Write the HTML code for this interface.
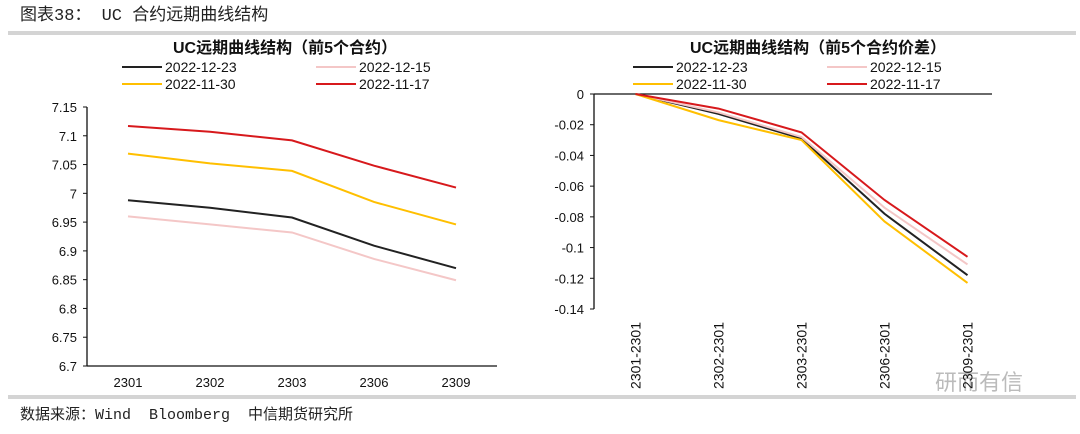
<!DOCTYPE html>
<html><head><meta charset="utf-8"><style>
body{margin:0;background:#fff;}
svg text{font-family:"Liberation Sans","Noto Sans CJK SC",sans-serif;}
</style></head><body>
<svg width="1080" height="429" viewBox="0 0 1080 429" xmlns="http://www.w3.org/2000/svg">
<text x="20" y="20" font-size="17" fill="#222" style="font-family:'Liberation Mono','Noto Sans CJK SC',monospace;white-space:pre">图表38： UC 合约远期曲线结构</text>
<rect x="8" y="31" width="1068" height="4" fill="#d4d4d4"/>
<rect x="8" y="395" width="1068" height="4" fill="#d4d4d4"/>
<text x="20" y="419" font-size="15" fill="#222" style="font-family:'Liberation Mono','Noto Sans CJK SC',monospace;white-space:pre">数据来源：Wind  Bloomberg  中信期货研究所</text>
<text x="935" y="390" font-size="22" fill="#bbb">研而有信</text>
<g id="left"></g>
<g id="right"></g>
</svg>
<script>
const seriesNames=["2022-12-23","2022-12-15","2022-11-30","2022-11-17"];
const seriesColors=["#222222","#f4c7c7","#ffbf00","#d7191c"];
const leftCats=["2301","2302","2303","2306","2309"];
const leftBlack=[6.988,6.975,6.958,6.909,6.870];
const leftPink=[6.960,6.946,6.932,6.886,6.849];
const leftYellow=[7.069,7.052,7.039,6.985,6.946];
const leftRed=[7.117,7.107,7.092,7.048,7.010];
const leftTicks=["7.15","7.1","7.05","7","6.95","6.9","6.85","6.8","6.75","6.7"];
const rightCats=["2301-2301","2302-2301","2303-2301","2306-2301","2309-2301"];
const rightBlack=[0,-0.013,-0.029,-0.078,-0.118];
const rightPink=[0,-0.012,-0.028,-0.074,-0.111];
const rightYellow=[0,-0.017,-0.030,-0.083,-0.123];
const rightRed=[0,-0.0095,-0.025,-0.069,-0.106];
const rightTicks=["0","-0.02","-0.04","-0.06","-0.08","-0.1","-0.12","-0.14"];
const NS="http://www.w3.org/2000/svg";
function mk(p,tag,attrs,txt){const e=document.createElementNS(NS,tag);for(const k in attrs)e.setAttribute(k,attrs[k]);if(txt!=null)e.textContent=txt;p.appendChild(e);return e;}
function draw(g,cfg){
  const {title,tcx,lx,cats,series,ticks,ymin,ymax,y0,y1,ax,band,axisY,axisEnd,rotate}=cfg;
  const ys=v=>y1-(v-ymin)/(ymax-ymin)*(y1-y0);
  const xs=i=>ax+band*(i+0.5);
  const t=mk(g,"text",{x:tcx,y:53,"font-size":16,"font-weight":"bold","text-anchor":"middle",fill:"#111"},title);
  
  
  series.forEach((s,i)=>{
    const px=lx+(i%2)*194, py=67+Math.floor(i/2)*17;
    const lg=mk(g,"g",{});
    
    
    mk(lg,"line",{x1:px,x2:px+40,y1:py,y2:py,stroke:seriesColors[i],"stroke-width":2});
    mk(lg,"text",{x:px+43,y:py+5,"font-size":14,fill:"#111"},seriesNames[i]);
  });
  ticks.forEach(tk=>{
    const v=parseFloat(tk),y=ys(v);
    const tt=mk(g,"text",{x:ax-10,y:y+5,"font-size":13,"text-anchor":"end",fill:"#111"},tk);
    
    
    mk(g,"line",{x1:ax-4,x2:ax,y1:y,y2:y,stroke:"#111","stroke-width":1});
  });
  const ya=mk(g,"line",{x1:ax,x2:ax,y1:y0,y2:y1,stroke:"#111","stroke-width":1.3});
  
  
  const xa=mk(g,"line",{x1:ax,x2:axisEnd,y1:axisY,y2:axisY,stroke:"#111","stroke-width":1.3});
  
  
  cats.forEach((c,i)=>{
    let el;
    if(rotate){el=mk(g,"text",{x:0,y:0,"font-size":14,"text-anchor":"end",fill:"#111",transform:`translate(${xs(i)+5},322) rotate(-90)`},c);}
    else{el=mk(g,"text",{x:xs(i),y:387,"font-size":13,"text-anchor":"middle",fill:"#111"},c);}
    
    
  });
  series.forEach((s,i)=>{
    const pl=mk(g,"polyline",{points:s.map((v,j)=>xs(j)+","+ys(v)).join(" "),fill:"none",stroke:seriesColors[i],"stroke-width":2});
    
    
  });
}
draw(document.getElementById("left"),{title:"UC远期曲线结构（前5个合约）",tcx:285,lx:122,cats:leftCats,
 series:[leftBlack,leftPink,leftYellow,leftRed],ticks:leftTicks,ymin:6.7,ymax:7.15,y0:107,y1:366,ax:87,band:82,axisY:366,axisEnd:497,rotate:false});
draw(document.getElementById("right"),{title:"UC远期曲线结构（前5个合约价差）",tcx:818,lx:633,cats:rightCats,
 series:[rightBlack,rightPink,rightYellow,rightRed],ticks:rightTicks,ymin:-0.14,ymax:0,y0:94,y1:309,ax:594,band:83,axisY:94,axisEnd:992,rotate:true});
</script>
</body></html>
